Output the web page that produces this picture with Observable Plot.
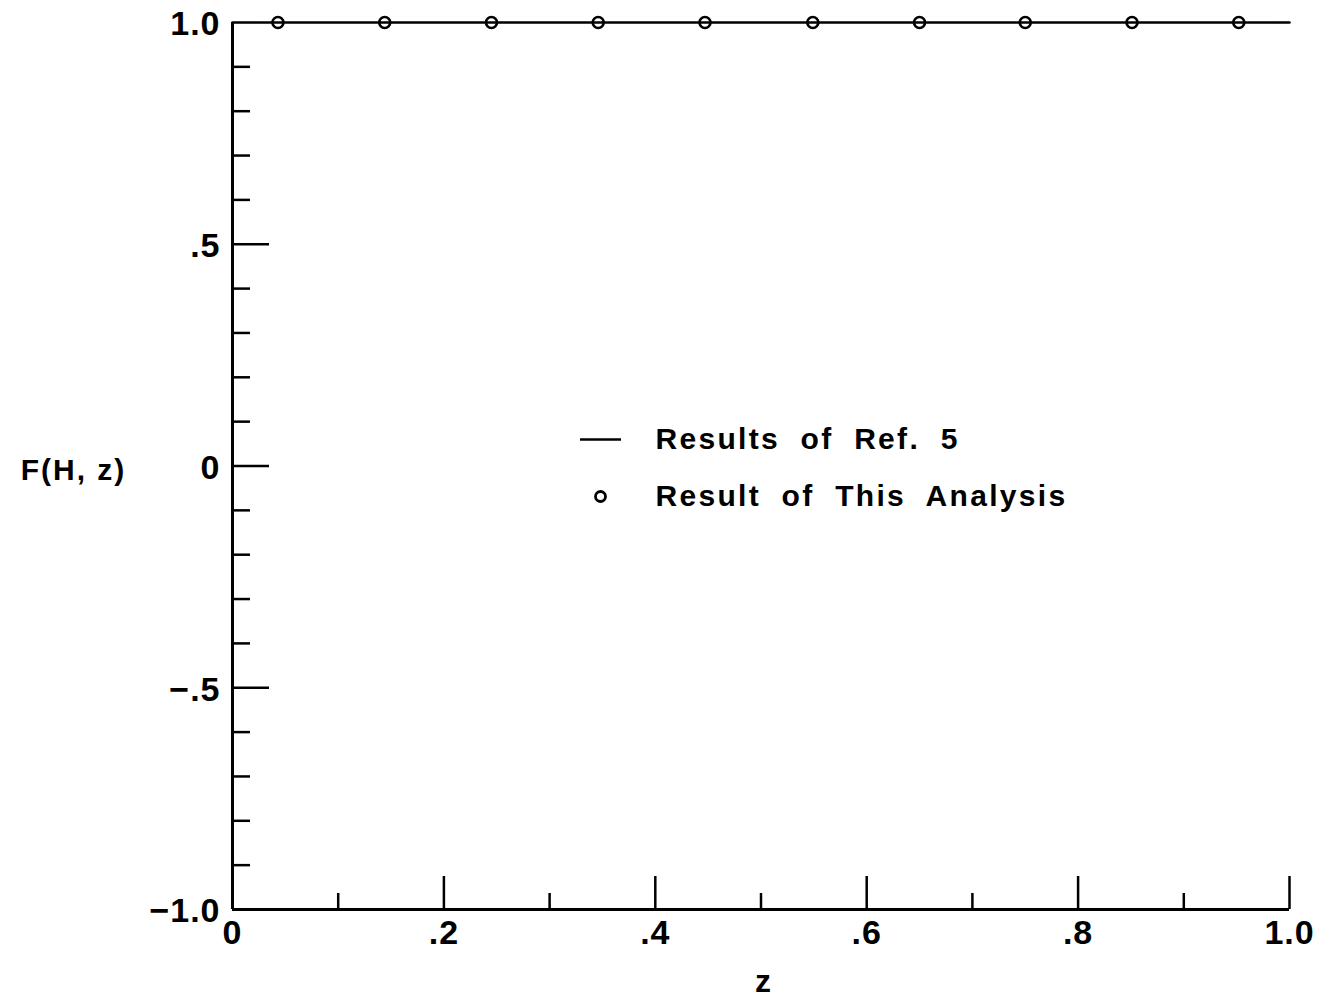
<!DOCTYPE html>
<html>
<head>
<meta charset="utf-8">
<script src="https://cdn.jsdelivr.net/npm/d3@7"></script>
<script src="https://cdn.jsdelivr.net/npm/@observablehq/plot@0.6"></script>
<style>
  html, body { margin: 0; padding: 0; background: #fff; }
  #chart { width: 1324px; height: 1002px; }
</style>
</head>
<body>
<div id="chart"></div>
<script>
// ---- data ----
const zRef = [0, 0.2, 0.4, 0.6, 0.8, 1.0];
const fRef = [1.0, 1.0, 1.0, 1.0, 1.0, 1.0];
const zThis = [0.043, 0.144, 0.245, 0.346, 0.447, 0.549, 0.650, 0.750, 0.851, 0.952];
const fThis = [1.0, 1.0, 1.0, 1.0, 1.0, 1.0, 1.0, 1.0, 1.0, 1.0];

const yMinorTicks = [-0.9, -0.8, -0.7, -0.6, -0.4, -0.3, -0.2, -0.1, 0.1, 0.2, 0.3, 0.4, 0.6, 0.7, 0.8, 0.9];
const yMajorTicks = [-0.5, 0, 0.5];
const yLabelValues = [-1.0, -0.5, 0, 0.5, 1.0];
const yLabels = ["\u22121.0", "\u2212.5", "0", ".5", "1.0"];

const xMinorTicks = [0.1, 0.3, 0.5, 0.7, 0.9];
const xMajorTicks = [0.2, 0.4, 0.6, 0.8, 1.0];
const xLabelValues = [0, 0.2, 0.4, 0.6, 0.8, 1.0];
const xLabels = ["0", ".2", ".4", ".6", ".8", "1.0"];

const legendLabels = ["Results of Ref. 5", "Result of This Analysis"];
const xTitle = "z";
const yTitle = "F(H, z)";

// ---- build tables ----
const refData = zRef.map((z, i) => ({z, f: fRef[i]}));
const thisData = zThis.map((z, i) => ({z, f: fThis[i]}));

const FONT = "'Liberation Sans', Arial, Helvetica, sans-serif";
const W = 1324, H = 1002;
const mL = 232, mR = 35, mT = 22, mB = 93;
const pxX = 1 / (W - mL - mR);          // data units per pixel (x)
const pxY = 2 / (H - mT - mB);          // data units per pixel (y)

// legend anchor (in data space, derived from pixel layout)
const legRowY = [1 - (439 - mT) * pxY, 1 - (496 - mT) * pxY];
const legSymX0 = (580 - mL) * pxX, legSymX1 = (621 - mL) * pxX, legDotX = (600 - mL) * pxX;
const legTextX = (655 - mL) * pxX;

const chart = Plot.plot({
  width: W,
  height: H,
  marginLeft: mL,
  marginRight: mR,
  marginTop: mT,
  marginBottom: mB,
  x: {domain: [0, 1], axis: null},
  y: {domain: [-1, 1], axis: null},
  style: {fontFamily: FONT, background: "#fff", color: "#000", overflow: "visible"},
  marks: [
    // axes lines
    Plot.ruleX([0], {y1: -1, y2: 1, stroke: "#000", strokeWidth: 3}),
    Plot.ruleY([-1], {x1: 0, x2: 1, stroke: "#000", strokeWidth: 3}),
    // y ticks (inward)
    Plot.ruleY(yMinorTicks, {x1: 0, x2: 18 * pxX, stroke: "#000", strokeWidth: 2.5}),
    Plot.ruleY(yMajorTicks, {x1: 0, x2: 37 * pxX, stroke: "#000", strokeWidth: 2.5}),
    // x ticks (inward)
    Plot.ruleX(xMinorTicks, {y1: -1, y2: -1 + 16 * pxY, stroke: "#000", strokeWidth: 2.5}),
    Plot.ruleX(xMajorTicks, {y1: -1, y2: -1 + 33 * pxY, stroke: "#000", strokeWidth: 2.5}),
    // tick labels
    Plot.text(yLabelValues, {x: 0, y: d => d, text: (d, i) => yLabels[i], textAnchor: "end", dx: -12, dy: 2,
      fontSize: 34, fontWeight: "bold", fill: "#000"}),
    Plot.text(xLabelValues, {x: d => d, y: -1, text: (d, i) => xLabels[i], textAnchor: "middle", dy: 24,
      fontSize: 34, fontWeight: "bold", fill: "#000"}),
    // axis titles
    Plot.text([xTitle], {frameAnchor: "bottom", dy: 82, fontSize: 32, fontWeight: "bold", fill: "#000", dx: 2}),
    Plot.text([yTitle], {frameAnchor: "left", dx: -159, dy: 4, fontSize: 30, fontWeight: "bold", fill: "#000",
      textAnchor: "middle"}),
    // data
    Plot.line(refData, {x: "z", y: "f", stroke: "#000", strokeWidth: 2.5}),
    Plot.dot(thisData, {x: "z", y: "f", r: 5.5, stroke: "#000", strokeWidth: 2.6, fill: "none"}),
    // legend
    Plot.ruleY([legRowY[0]], {x1: legSymX0, x2: legSymX1, stroke: "#000", strokeWidth: 2.6}),
    Plot.dot([legRowY[1]], {x: legDotX, y: d => d, r: 5, stroke: "#000", strokeWidth: 2.8, fill: "none"}),
    Plot.text(legendLabels, {x: legTextX, y: (d, i) => legRowY[i], text: d => d, textAnchor: "start",
      fontSize: 30, fontWeight: "bold", fill: "#000"})
  ]
});

d3.select(chart).selectAll("text")
  .filter(function() { return legendLabels.includes(this.textContent); })
  .attr("letter-spacing", "2.3px").attr("word-spacing", "10px");
d3.select(chart).selectAll("text")
  .filter(function() { return this.textContent === yTitle; })
  .attr("letter-spacing", "2px");
d3.select(chart).selectAll("text")
  .filter(function() { return yLabels.includes(this.textContent) || xLabels.includes(this.textContent); })
  .attr("letter-spacing", "1px");

document.getElementById("chart").appendChild(chart);
</script>
</body>
</html>
